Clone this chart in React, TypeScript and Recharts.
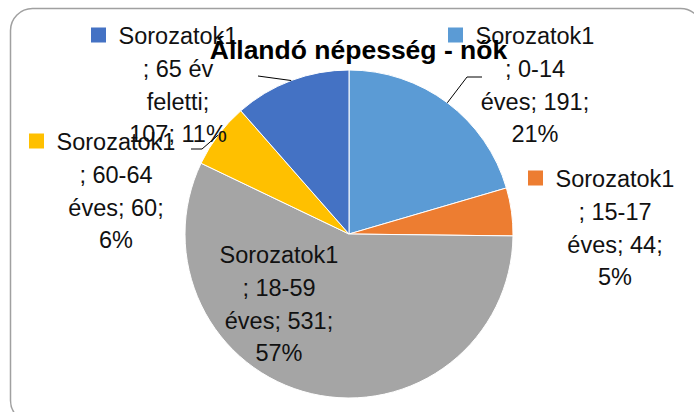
import React from 'react'
import { PieChart, Pie, Cell } from 'recharts'

// ─── Data ─────────────────────────────────────────────────────────────────────

const TITLE = 'Állandó népesség - nők'
const SERIES_NAME = 'Sorozatok1'
const CATEGORIES = ['0-14 éves', '15-17 éves', '18-59 éves', '60-64 éves', '65 év feletti']
const VALUES = [191, 44, 531, 60, 107]

// ─── Style ────────────────────────────────────────────────────────────────────

const COLORS = ['#5B9BD5', '#ED7D31', '#A5A5A5', '#FFC000', '#4472C4']
const FONT = '"Liberation Sans", Arial, sans-serif'
const TEXT_COLOR = '#111111'
const LABEL_SIZE = 23.5
const LINE_STEP = 32.8
const W = 694
const H = 412

// label block placement relative to pie centre (Excel "best fit" positions)
const LABEL_LAYOUT: { dx: number; dy: number; leader?: [number, number][] }[] = [
  { dx: 186, dy: -190, leader: [[118, -157], [133, -157]] },
  { dx: 266, dy: -47 },
  { dx: -70, dy: 29 },
  { dx: -233, dy: -84, leader: [[-147, -85], [-158, -85]] },
  { dx: -171, dy: -190, leader: [[-91, -158]] },
]

// Excel rounds pie percentages so they add up to 100 (largest remainder)
function roundedPercents(values: number[]) {
  const total = values.reduce((a, b) => a + b, 0)
  const raw = values.map(v => (v / total) * 100)
  const out = raw.map(Math.floor)
  const left = 100 - out.reduce((a, b) => a + b, 0)
  const order = raw.map((r, i) => [r - Math.floor(r), i]).sort((a, b) => b[0] - a[0])
  for (let k = 0; k < left; k++) out[order[k][1]] += 1
  return out
}

const PERCENTS = roundedPercents(VALUES)

function wrap(text: string, maxChars: number) {
  const words = text.split(' ')
  const lines: string[] = []
  let cur = ''
  words.forEach(w => {
    const next = cur ? cur + ' ' + w : w
    if (next.length > maxChars && cur) {
      lines.push(cur)
      cur = w
    } else cur = next
  })
  if (cur) lines.push(cur)
  return lines
}

const data = CATEGORIES.map((c, i) => ({ name: c, value: VALUES[i] }))

const RAD = Math.PI / 180

function renderLabel(props: any) {
  const { cx, cy, midAngle, outerRadius, index } = props
  const layout = LABEL_LAYOUT[index]
  const bx = cx + layout.dx
  const by = cy + layout.dy
  const rest = wrap(`; ${CATEGORIES[index]}; ${VALUES[index]}; ${PERCENTS[index]}%`, 10)
  const lines = [SERIES_NAME, ...rest]

  let leader = null
  if (layout.leader) {
    const px = cx + outerRadius * Math.cos(-midAngle * RAD)
    const py = cy + outerRadius * Math.sin(-midAngle * RAD)
    const pts = [[px, py], ...layout.leader.map(([x, y]) => [cx + x, cy + y])]
    leader = (
      <polyline
        points={pts.map(p => p.join(',')).join(' ')}
        fill="none"
        stroke="#000"
        strokeWidth={1}
      />
    )
  }

  return (
    <g key={`lbl-${index}`}>
      {leader}
      <rect x={bx - 87} y={by - 16.5} width={15} height={15} fill={COLORS[index]} />
      {lines.map((t, i) => (
        <text
          key={i}
          x={bx}
          y={by + i * LINE_STEP}
          textAnchor="middle"
          fontFamily={FONT}
          fontSize={LABEL_SIZE}
          fill={TEXT_COLOR}
        >
          {t}
        </text>
      ))}
    </g>
  )
}

export default function App() {
  return (
    <div style={{ position: 'absolute', left: 0, top: 0, width: W, height: H, overflow: 'hidden', background: '#fff' }}>
      <svg width={W} height={H} style={{ position: 'absolute', left: 0, top: 0 }}>
        <rect x={10.5} y={8.5} width={692} height={414} rx={22} fill="#fff" stroke="#A0A0A0" strokeWidth={1.5} />
      </svg>
      <div style={{ position: 'absolute', left: 0, top: 0 }}>
        <PieChart width={W} height={H} margin={{ top: 0, right: 0, bottom: 0, left: 0 }}>
          <Pie
            data={data}
            dataKey="value"
            nameKey="name"
            cx={349}
            cy={234}
            innerRadius={0}
            outerRadius={164}
            startAngle={90}
            endAngle={-270}
            stroke="#fff"
            strokeWidth={1}
            label={renderLabel}
            labelLine={false}
            isAnimationActive={false}
          >
            {data.map((d, i) => (
              <Cell key={d.name} fill={COLORS[i]} />
            ))}
          </Pie>
        </PieChart>
      </div>
      <svg width={W} height={H} style={{ position: 'absolute', left: 0, top: 0, pointerEvents: 'none' }}>
        <text x={358.5} y={59} textAnchor="middle" fontFamily={FONT} fontWeight="bold" fontSize={26.5} fill="#000">
          {TITLE}
        </text>
      </svg>
    </div>
  )
}
